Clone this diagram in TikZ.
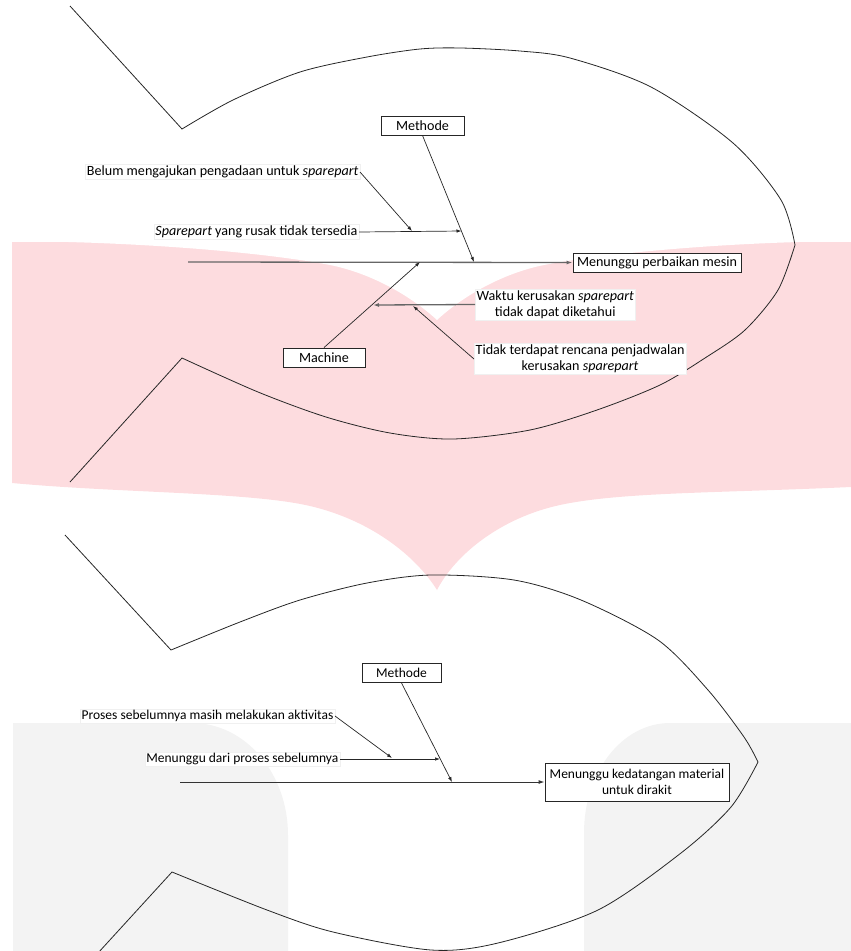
\documentclass[tikz,border=0pt]{standalone}
\usepackage{fontspec}
\setmainfont{Carlito}
\usetikzlibrary{arrows.meta}
\definecolor{pinkbg}{RGB}{253,220,223}
\definecolor{graybg}{RGB}{243,243,243}
\newcommand{\fs}{\fontsize{13.5}{16}\selectfont}
\newcommand{\fsb}{\fontsize{14.1}{16}\selectfont}
\begin{document}
\begin{tikzpicture}[x=1pt,y=-1pt,
  fishline/.style={line width=0.8pt, black!85},
  box/.style={draw=black!85, line width=0.9pt, fill=white, minimum height=19pt, inner sep=2pt, font=\fs},
  lbl/.style={fill=white, draw=black!6, line width=0.3pt, inner sep=1.5pt, font=\fs},
  topfont/.style={font=\fsb},
  conn/.style={line width=0.7pt, black!85, -{Latex[length=5pt,width=3.5pt]}},
  spine/.style={line width=1.3pt, black!60, -{Latex[length=6pt,width=4pt]}}]
\useasboundingbox (0,0) rectangle (851,951);
% background shapes
\fill[pinkbg] (12,242) -- (851,242) -- (851,487)
  .. controls (720,493) and (620,492) .. (560,505)
  .. controls (500,518) and (455,555) .. (437,590)
  .. controls (415,555) and (370,520) .. (310,506)
  .. controls (250,492) and (120,493) .. (12,483)
  -- cycle;
\fill[white] (12,241) .. controls (150,242) and (270,253.5) .. (330,265)
  .. controls (370,273) and (410,295) .. (437,320)
  .. controls (464,295) and (504,273) .. (544,265)
  .. controls (604,253.5) and (724,242) .. (851,241)
  -- cycle;
\fill[graybg] (13,723) -- (192,723) .. controls (246,723) and (288,774) .. (288,835) -- (288,951) -- (13,951) -- cycle;
\fill[graybg] (851,723) -- (670,723) .. controls (622,723) and (584,772) .. (584,833) -- (584,951) -- (851,951) -- cycle;
% fish outlines
\draw[fishline] (70,6) -- (182,129) -- plot[smooth] coordinates {(182,129) (233,100) (300,72) (367,57) (420,49) (461,48) (520,51) (570,58) (651,87) (733,143) (781,200) (795,245)}
  -- plot[smooth] coordinates {(795,245) (778,290) (745,330) (705,358) (660,385) (597,410) (530,430) (453,439) (390,433) (326,417) (258,392) (182,358)}
  -- (70,482);
\draw[fishline] (65,535) -- (171,650) -- plot[smooth] coordinates {(171,650) (240,622) (300,600) (367,583) (431,575) (514,580) (581,600) (658,640) (708,690) (744,737) (758,762)}
  -- plot[smooth] coordinates {(758,762) (731,807) (681,853) (598,910) (498,943) (431,950) (333,932) (267,910) (172,872)}
  -- (98,953);
% top diagram nodes
\node[box, topfont, minimum width=83pt] (m1) at (422.5,125.5) {Methode};
\node[box, topfont, minimum width=168pt] (e1) at (657,262.5) {Menunggu perbaikan mesin};
\node[box, topfont, minimum width=82pt] (mc) at (324,357.5) {Machine};
\node[lbl, topfont, anchor=east] (b1) at (360,172) {Belum mengajukan pengadaan untuk \textit{sparepart}};
\node[lbl, topfont, anchor=east] (s1) at (359,232) {\textit{Sparepart} yang rusak tidak tersedia};
\node[lbl, topfont, anchor=west, align=center] (w1) at (475,304.5) {Waktu kerusakan \textit{sparepart}\\tidak dapat diketahui};
\node[lbl, topfont, anchor=west, align=center] (t1) at (474,359) {Tidak terdapat rencana penjadwalan\\kerusakan \textit{sparepart}};
\coordinate (sp1) at (188,262);
\coordinate (h1) at (474,262);
\coordinate (h2) at (420,262);
\coordinate (a1) at (412,231);
\coordinate (a2) at (461.5,231);
\coordinate (a3) at (373,305);
\coordinate (a4) at (413,306);
\draw[spine] (sp1) -- (e1.west);
\draw[conn] (m1.south) -- (h1);
\draw[conn] (mc.north) -- (h2);
\draw[conn] (b1.east) -- (a1);
\draw[conn] (s1.east) -- (a2);
\draw[spine] (w1.west) -- (a3);
\draw[conn] (t1.west) -- (a4);
% bottom diagram nodes
\node[box, minimum width=79pt] (m2) at (401.5,673) {Methode};
\node[box, minimum width=184pt, minimum height=38pt, align=center] (e2) at (637,782) {Menunggu kedatangan material\\untuk dirakit};
\node[lbl, anchor=east] (p2) at (335,716) {Proses sebelumnya masih melakukan aktivitas};
\node[lbl, anchor=east] (d2) at (340,759) {Menunggu dari proses sebelumnya};
\coordinate (sp2) at (180,782);
\coordinate (h3) at (452,782);
\coordinate (a5) at (392,758);
\coordinate (a6) at (440,759);
\draw[spine, black!80, line width=1pt] (sp2) -- (e2.west);
\draw[conn] (m2.south) -- (h3);
\draw[conn] (p2.east) -- (a5);
\draw[conn] (d2.east) -- (a6);
\end{tikzpicture}
\end{document}
